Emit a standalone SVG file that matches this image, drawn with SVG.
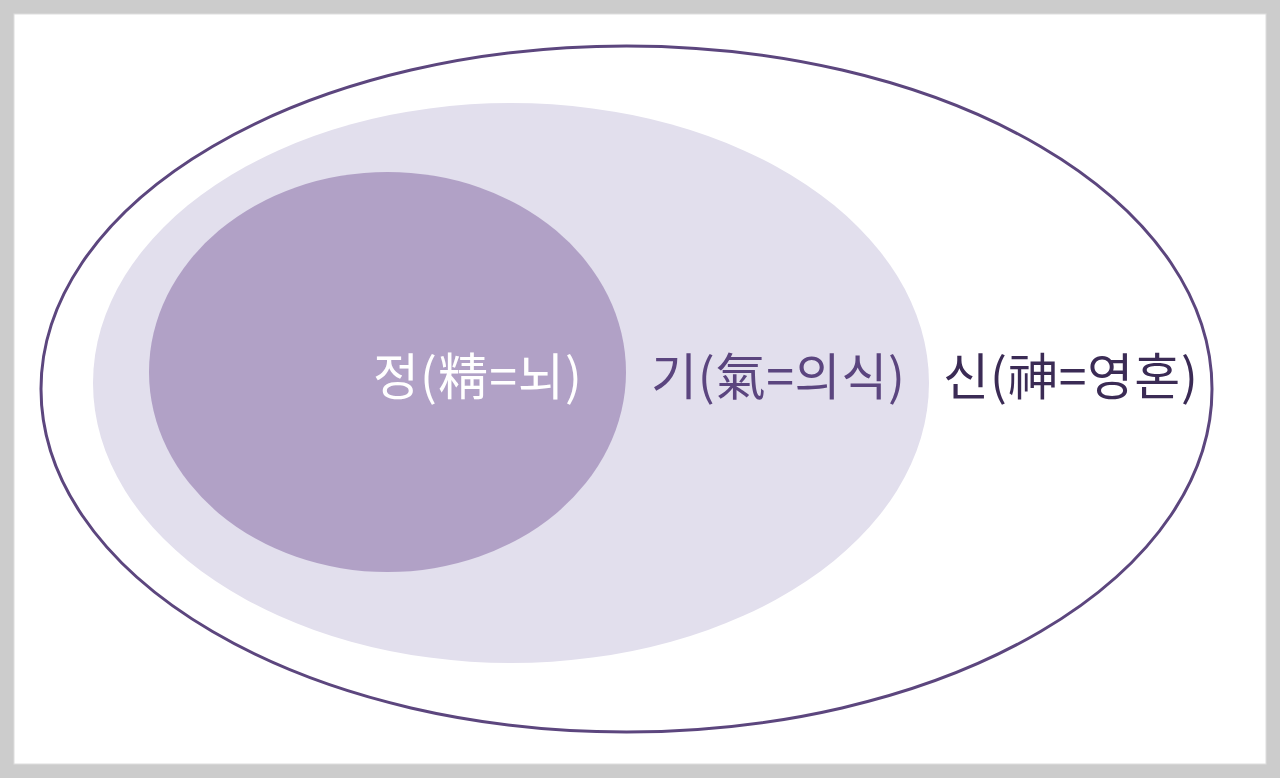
<svg xmlns="http://www.w3.org/2000/svg" width="1280" height="778" viewBox="0 0 1280 778">
<style>
.t{font-family:"Noto Sans CJK KR","Noto Sans",sans-serif;font-size:50px}
</style>
<rect x="0" y="0" width="1280" height="778" fill="#cccccc"/>
<rect x="14" y="14" width="1252" height="750" fill="#ffffff" stroke="#dddddd" stroke-width="1"/>
<g id="shin">
<ellipse cx="626.5" cy="389" rx="585.5" ry="343" fill="#ffffff" stroke="#5c467e" stroke-width="3"/>
<text class="t" x="943" y="395" fill="#3b2b55" textLength="255" lengthAdjust="spacing">신(神=영혼)</text>
</g>
<g id="gi">
<ellipse cx="511" cy="383" rx="418" ry="280" fill="#e2dfed"/>
<text class="t" x="651" y="395" fill="#5b457f" textLength="254" lengthAdjust="spacing">기(氣=의식)</text>
</g>
<g id="jeong">
<ellipse cx="387.5" cy="372" rx="238.5" ry="200" fill="#b1a1c6"/>
<text class="t" x="373" y="395" fill="#ffffff" textLength="209" lengthAdjust="spacing">정(精=뇌)</text>
</g>
<g id="connectors"/>
</svg>
